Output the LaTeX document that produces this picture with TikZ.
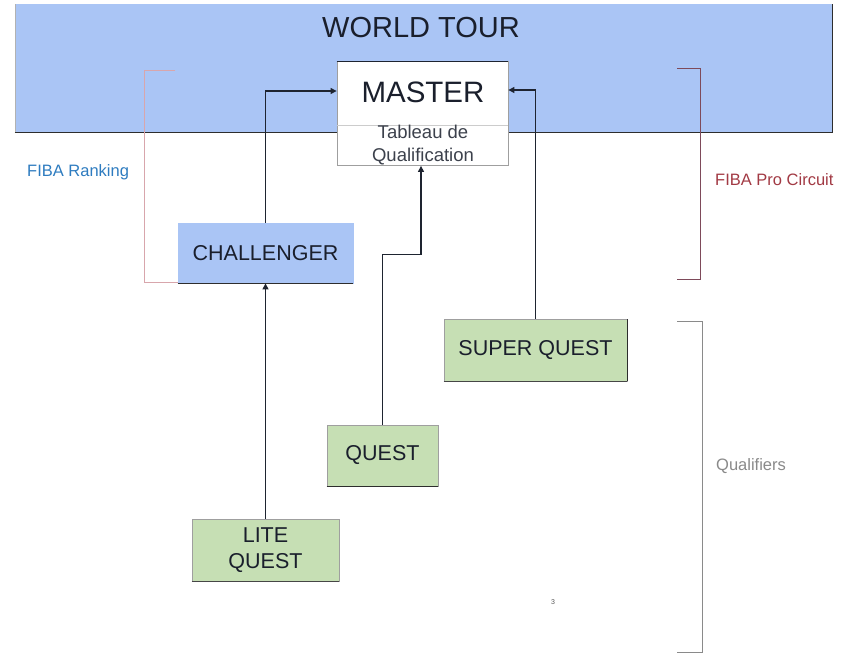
\documentclass[tikz,border=0pt]{standalone}
\usepackage{fontspec}
\setmainfont{Liberation Sans}
\usetikzlibrary{arrows.meta}
\definecolor{bannerblue}{HTML}{AAC5F5}
\definecolor{boxgreen}{HTML}{C6DFB4}
\definecolor{linedark}{HTML}{1E2430}
\definecolor{textdark}{HTML}{1A1F2C}
\definecolor{rankblue}{HTML}{2E7CC0}
\definecolor{rankbr}{HTML}{D8A6AC}
\definecolor{prored}{HTML}{A23A44}
\definecolor{probr}{HTML}{7E4A5A}
\definecolor{qualgray}{HTML}{8A8A8A}
\begin{document}
\begin{tikzpicture}[x=1pt,y=-1pt,
  box/.style={rectangle,inner sep=0pt,draw=gray!75,line width=0.8pt,align=center,text=textdark,
    font=\fontsize{21.5}{26}\selectfont},
  greenbox/.style={box,fill=boxgreen},
  bluebox/.style={box,fill=bannerblue,draw=bannerblue},
  edge/.style={draw=gray!35!black,line width=1.3pt},
  arr/.style={draw=linedark,line width=1.2pt,-{Triangle[length=6pt,width=6pt]}},
  note/.style={inner sep=0pt,anchor=west,font=\fontsize{16.5}{20}\selectfont},
  bracket/.style={line width=1pt}]
\useasboundingbox (0,0) rectangle (848,653);
\fill[white] (0,0) rectangle (848,653);

% banner
\node[rectangle,inner sep=0pt,fill=bannerblue,minimum width=817pt,minimum height=128pt] (world) at (423.5,68) {};
\draw[edge] (world.south west) -- (world.south east) -- (world.north east);
\draw[gray!60,line width=0.6pt] (world.south west) -- (world.north west);
\node[inner sep=0pt,text=textdark,font=\fontsize{29}{34}\selectfont] (title) at (421,28) {WORLD TOUR};

% brackets
\draw[bracket,rankbr] (175,70) -- (144,70) -- (144,282) -- (178,282);
\draw[bracket,probr] (677,68) -- (700,68) -- (700,279) -- (677,279);
\draw[bracket,qualgray] (677,321) -- (702,321) -- (702,652) -- (677,652);
\node[note,text=rankblue] (rank) at (27,172) {FIBA Ranking};
\node[note,text=prored] (pro) at (715,180) {FIBA Pro Circuit};
\node[note,text=qualgray] (qual) at (716,466) {Qualifiers};

% master
\node[box,fill=white,minimum width=171pt,minimum height=104pt] (master) at (422.5,113.5) {};
\draw[linedark,line width=1pt] (master.north west) -- (master.north east);
\draw[gray!40,line width=0.6pt] (master.west |- 0,125) -- (master.east |- 0,125);
\node[inner sep=0pt,text=textdark,font=\fontsize{29.5}{34}\selectfont] (mtitle) at (423,92) {MASTER};
\node[inner sep=0pt,align=center,text=textdark!85,font=\fontsize{18.5}{23.5}\selectfont] (mtab) at (423,145) {Tableau de\\Qualification};

% challenger
\node[bluebox,minimum width=175pt,minimum height=60pt] (chal) at (265.5,253) {CHALLENGER};
\draw[edge] (chal.south west) -- (chal.south east);

% green boxes
\node[greenbox,minimum width=183pt,minimum height=62pt] (super) at (535.5,350) {SUPER QUEST};
\draw[edge] (super.south east) -- (super.north east);
\draw[gray!55!black,line width=1pt] (super.south west) -- (super.south east);
\node[greenbox,minimum width=111pt,minimum height=61pt] (quest) at (382.5,455.5) {QUEST};
\draw[edge] (quest.south west) -- (quest.south east);
\node[greenbox,minimum width=147pt,minimum height=62pt] (lite) at (265.5,550) {LITE\\QUEST};
\draw[gray!55!black,line width=1pt] (lite.south west) -- (lite.south east);

% connectors
\draw[arr] (chal.north) |- ([yshift=22.5pt]master.west);
\draw[arr] (super.north) |- ([yshift=23.5pt]master.east);
\draw[arr] (lite.north) -- (lite.north |- chal.south);
\draw[arr] (quest.north) -- ++(0,-170) -| ([xshift=-1.5pt]master.south);

% page number
\node[inner sep=0pt,text=gray!70!black,font=\fontsize{7}{8}\selectfont] (pg) at (553,602) {3};
\end{tikzpicture}
\end{document}
